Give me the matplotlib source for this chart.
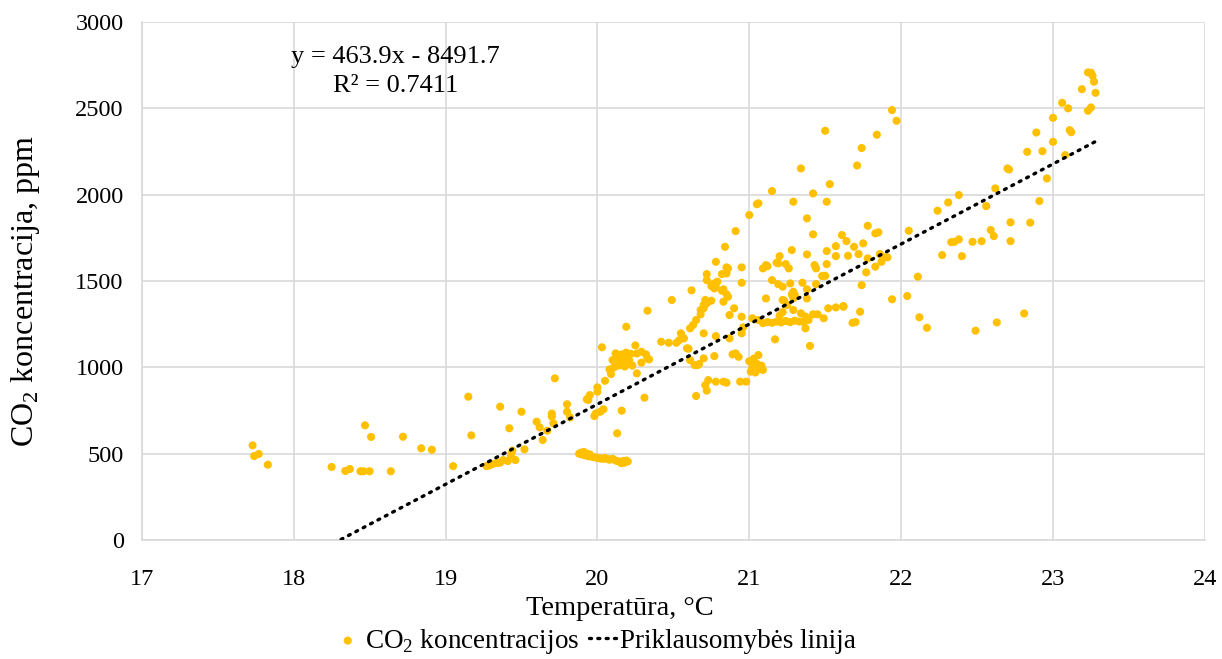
import matplotlib
matplotlib.use("Agg")
import matplotlib.pyplot as plt
import numpy as np

# temperature (°C) and CO2 (ppm)
temp = [
    17.73, 17.74, 17.77, 17.83, 18.25, 18.34, 18.37, 18.44, 18.46, 18.50, 18.64, 18.47, 18.51, 18.72, 18.84, 18.91, 19.05, 19.15, 19.17,
    19.27, 19.29, 19.31, 19.34, 19.36, 19.38, 19.41, 19.43, 19.44, 19.46, 19.52, 19.36, 19.42, 19.50, 19.60, 19.62, 19.64, 19.67, 19.70, 19.70, 19.71, 19.72, 19.80, 19.80, 19.82,
    19.88, 19.89, 19.90, 19.91, 19.92, 19.93, 19.94, 19.95, 19.97, 19.99, 20.00, 20.02, 20.04, 20.05, 20.07, 20.08, 20.10, 20.12, 20.14, 20.15, 20.16, 20.17, 20.19, 20.20, 20.18,
    19.93, 19.95, 19.94, 20.00, 20.00, 20.05, 20.08, 20.09, 20.03, 20.13, 20.16, 20.04, 20.02, 19.99, 19.98, 20.31, 20.26, 20.12, 20.16, 20.19, 20.22, 20.26, 20.32, 20.10, 20.13, 20.15, 20.17, 20.19, 20.21, 20.14, 20.18, 20.34, 20.29, 20.29, 20.33, 20.25, 20.19, 20.33, 20.23, 20.11,
    20.42, 20.47, 20.52, 20.54, 20.55, 20.57, 20.59, 20.60, 20.49, 20.62, 20.61, 20.64, 20.67, 20.66, 20.70, 20.77, 20.61, 20.63, 20.65, 20.68, 20.68, 20.70, 20.70, 20.71, 20.72, 20.75, 20.70, 20.78, 20.65, 20.71, 20.72, 20.73, 20.78, 20.83, 20.85, 20.94, 20.98,
    20.72, 20.72, 20.75, 20.77, 20.79, 20.77, 20.78, 20.82, 20.85, 20.85, 20.86, 20.78, 20.84, 20.91, 21.00, 21.06, 21.15, 20.95, 20.95, 20.83, 20.85, 20.86, 20.83, 20.82, 20.87, 20.90, 20.95, 20.96, 20.95, 20.87, 20.89, 20.93, 20.91,
    21.00, 21.02, 21.03, 21.04, 21.05, 21.06, 21.07, 21.08, 21.09, 21.01, 21.02, 21.06,
    21.09, 21.12, 21.15, 21.18, 21.21, 21.24, 21.27, 21.30, 21.33, 21.36, 21.39, 21.20, 21.22, 21.17, 21.40, 21.37, 21.37, 21.34, 21.29, 21.25, 21.22, 21.11, 21.23, 21.28, 21.29, 21.38, 21.42, 21.45, 21.49, 21.52, 21.57, 21.62,
    21.05, 21.29, 21.51, 21.38, 21.42, 21.42, 21.53, 21.34, 21.50, 21.15, 21.19, 21.22, 21.27, 21.35, 21.38, 21.44, 21.50, 21.09, 21.12, 21.19, 21.24, 21.26, 21.43, 21.44, 21.51, 21.20, 21.18, 21.28, 21.38, 21.51, 21.57, 21.57, 21.11, 21.30, 21.29, 21.48,
    21.61, 21.64, 21.69, 21.75, 21.78, 21.83, 21.85, 21.65, 21.72, 21.78, 21.86, 21.88, 21.91, 21.87, 21.83, 21.77, 21.74, 21.62, 21.73, 21.68, 21.70, 21.74, 21.71, 21.84, 21.94, 21.97, 21.94, 22.04, 22.11, 22.12, 22.17, 22.05,
    22.24, 22.31, 22.38, 22.27, 22.40, 22.33, 22.35, 22.38, 22.47, 22.53, 22.49, 22.56, 22.59, 22.61, 22.62, 22.63, 22.70, 22.71, 22.72, 22.72, 22.81, 22.85, 22.83, 22.89, 22.91, 22.93, 22.96, 23.00, 23.00, 23.06, 23.08, 23.10, 23.11, 23.12, 23.19, 23.23, 23.25, 23.26, 23.27, 23.28, 23.25, 23.23,
]
co2 = [
    548, 486, 498, 436, 423, 400, 411, 398, 398, 398, 398, 664, 597, 598, 531, 523, 428, 830, 606,
    428, 432, 440, 446, 448, 463, 457, 492, 517, 463, 525, 772, 647, 743, 685, 652, 579, 633, 732, 715, 676, 936, 786, 743, 710,
    500, 505, 495, 510, 490, 500, 485, 495, 480, 478, 475, 472, 470, 475, 468, 465, 470, 460, 455, 450, 445, 458, 460, 455, 448,
    815, 839, 811, 859, 884, 922, 988, 961, 1116, 618, 749, 757, 743, 733, 718, 824, 965, 1081, 1075, 1085, 1078, 1080, 1075, 1042, 1050, 1030, 1060, 1020, 1040, 1010, 1005, 1046, 1027, 1090, 1052, 1127, 1235, 1328, 1010, 1000,
    1148, 1142, 1142, 1158, 1197, 1168, 1110, 1108, 1390, 1446, 1042, 1013, 1019, 1013, 1052, 1065, 1226, 1245, 1274, 1307, 1332, 1342, 1361, 1390, 1370, 1386, 1197, 1181, 834, 897, 865, 926, 917, 917, 911, 917, 917,
    1540, 1505, 1471, 1457, 1496, 1486, 1463, 1540, 1579, 1544, 1573, 1611, 1698, 1789, 1882, 1950, 2021, 1579, 1490, 1452, 1423, 1409, 1380, 1444, 1303, 1342, 1293, 1232, 1197, 1168, 1075, 1061, 1081,
    1035, 1000, 1050, 970, 1020, 1071, 990, 1010, 985, 975, 1284, 1274,
    1256, 1262, 1258, 1265, 1260, 1268, 1262, 1270, 1265, 1262, 1274, 1300, 1320, 1162, 1124, 1226, 1294, 1313, 1332, 1361, 1390, 1399, 1386, 1423, 1399, 1399, 1307, 1307, 1284, 1342, 1347, 1355,
    1945, 1959, 1959, 1863, 1770, 2007, 2061, 2152, 2370, 1505, 1482, 1467, 1486, 1490, 1452, 1482, 1530, 1573, 1586, 1602, 1598, 1573, 1592, 1573, 1598, 1644, 1606, 1679, 1654, 1673, 1702, 1644, 1592, 1419, 1438, 1529,
    1766, 1731, 1698, 1718, 1820, 1776, 1782, 1646, 1656, 1631, 1656, 1640, 1637, 1611, 1583, 1550, 1476, 1351, 1322, 1258, 1262, 2270, 2169, 2347, 2490, 2428, 1394, 1413, 1525, 1290, 1229, 1791,
    1907, 1955, 1998, 1650, 1644, 1725, 1727, 1741, 1727, 1731, 1212, 1934, 1795, 1760, 2036, 1260, 2152, 2146, 1840, 1731, 1312, 1838, 2248, 2360, 1963, 2252, 2094, 2306, 2445, 2532, 2229, 2500, 2374, 2362, 2611, 2708, 2706, 2689, 2654, 2590, 2505, 2486,
]

slope, intercept = 463.9, -8491.7
eq_text = "y = 463.9x - 8491.7"
r2_text = "R² = 0.7411"
xticks = [17, 18, 19, 20, 21, 22, 23, 24]
yticks = [0, 500, 1000, 1500, 2000, 2500, 3000]

plt.rcParams['font.family'] = ['Liberation Serif', 'DejaVu Serif']
plt.rcParams['mathtext.fontset'] = 'custom'
plt.rcParams['mathtext.rm'] = 'Liberation Serif'

fig = plt.figure(figsize=(12.22, 6.59), dpi=100)
ax = fig.add_axes([0.116, 0.1806, 0.870, 0.786])

ax.scatter(temp, co2, s=34, color='#FFC000', edgecolors='none', zorder=3,
           label='CO$_\\mathrm{2}$ koncentracijos')
xl = np.array([min(temp), max(temp)])
ax.plot(xl, slope * xl + intercept, color='black', linestyle=(0, (0.6, 1.9)),
        linewidth=2.4, dash_capstyle='round', zorder=4, label='Priklausomybės linija')

ax.set_xlim(17, 24)
ax.set_ylim(0, 3000)
ax.set_xticks(xticks)
ax.set_yticks(yticks)
ax.grid(True, color='#D9D9D9', linewidth=1.2, zorder=0)
ax.set_axisbelow(True)
for s in ['top', 'right']:
    ax.spines[s].set_visible(False)
for s in ['left', 'bottom']:
    ax.spines[s].set_color('#D9D9D9')
    ax.spines[s].set_linewidth(1.2)
ax.tick_params(length=0, labelsize=17.5, colors='#000000')
ax.tick_params(axis='x', pad=21)
ax.tick_params(axis='y', pad=13)

ax.set_xlabel('Temperatūra, °C', fontsize=20.5)
ax.xaxis.set_label_coords(0.45, -0.108)
ax.set_ylabel('CO$_\\mathrm{2}$ koncentracija, ppm', fontsize=23)
ax.yaxis.set_label_coords(-0.094, 0.48)

ax.text(0.239, 0.932, eq_text, transform=ax.transAxes, ha='center', va='center', fontsize=19)
ax.text(0.239, 0.876, r2_text, transform=ax.transAxes, ha='center', va='center', fontsize=19)

fig.legend(loc='lower center', bbox_to_anchor=(0.487, -0.032), ncol=2, frameon=False,
           fontsize=19.5, handlelength=1.0, columnspacing=0.35, handletextpad=0.15,
           markerscale=1.0)

fig.savefig('out.png', dpi=100)
